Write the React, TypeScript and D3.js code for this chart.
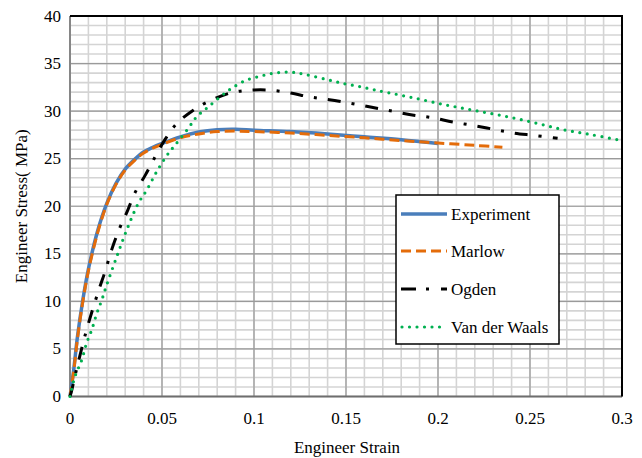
import React from "react";
import * as d3 from "d3";

const xTicks = [0, 0.05, 0.1, 0.15, 0.2, 0.25, 0.3];
const xTickLabels = ["0", "0.05", "0.1", "0.15", "0.2", "0.25", "0.3"];
const yTicks = [0, 5, 10, 15, 20, 25, 30, 35, 40];
const yTickLabels = ["0", "5", "10", "15", "20", "25", "30", "35", "40"];

const strainExp = [0, 0.002, 0.004, 0.007, 0.01, 0.015, 0.02, 0.025, 0.03, 0.035, 0.04, 0.045, 0.05, 0.06, 0.07, 0.08, 0.09, 0.1, 0.12, 0.14, 0.16, 0.18, 0.2];
const stressExp = [0, 2.8, 6.2, 10.2, 13.4, 17.4, 20.3, 22.4, 23.9, 24.9, 25.7, 26.2, 26.6, 27.3, 27.8, 28.05, 28.1, 28.0, 27.85, 27.6, 27.3, 27.0, 26.6];

const strainMar = [0, 0.002, 0.004, 0.007, 0.01, 0.015, 0.02, 0.025, 0.03, 0.035, 0.04, 0.045, 0.05, 0.06, 0.07, 0.08, 0.09, 0.1, 0.12, 0.14, 0.16, 0.18, 0.2, 0.22, 0.235];
const stressMar = [0, 2.6, 6.0, 10.0, 13.2, 17.2, 20.2, 22.3, 23.8, 24.8, 25.6, 26.1, 26.5, 27.2, 27.6, 27.85, 27.9, 27.85, 27.7, 27.45, 27.2, 26.9, 26.65, 26.4, 26.2];

const strainOg = [0, 0.001, 0.0036, 0.0063, 0.009, 0.0127, 0.016, 0.019, 0.0226, 0.027, 0.031, 0.035, 0.041, 0.046, 0.0516, 0.058, 0.067, 0.074, 0.087, 0.098, 0.109, 0.12, 0.13, 0.141, 0.153, 0.164, 0.175, 0.186, 0.197, 0.208, 0.219, 0.23, 0.241, 0.252, 0.265];
const stressOg = [0, 0.7, 2.9, 5.0, 7.0, 9.4, 11.4, 13.1, 15.4, 17.7, 19.4, 21.3, 23.3, 25.1, 27.0, 28.7, 30.1, 30.9, 31.9, 32.2, 32.2, 31.9, 31.5, 31.2, 30.8, 30.4, 30.0, 29.6, 29.3, 28.85, 28.5, 28.1, 27.7, 27.45, 27.15];

const strainVw = [0, 0.0027, 0.0063, 0.009, 0.0118, 0.0145, 0.0172, 0.0199, 0.0254, 0.0308, 0.0371, 0.0417, 0.047, 0.0525, 0.057, 0.0643, 0.0688, 0.0752, 0.0842, 0.0879, 0.0951, 0.103, 0.111, 0.1196, 0.128, 0.14, 0.1486, 0.157, 0.165, 0.174, 0.1866, 0.203, 0.219, 0.2355, 0.252, 0.268, 0.284, 0.3];
const stressVw = [0, 2.1, 3.8, 5.6, 7.0, 8.7, 10.1, 11.7, 14.7, 17.5, 20.3, 21.7, 23.6, 25.3, 26.4, 28.2, 29.4, 30.45, 31.9, 32.4, 33.2, 33.65, 34.0, 34.1, 33.85, 33.3, 32.9, 32.6, 32.25, 31.9, 31.4, 30.7, 30.1, 29.5, 28.8, 28.05, 27.5, 26.9];

const seriesNames = ["Experiment", "Marlow", "Ogden", "Van der Waals"];

const W = 642, H = 458;
const L = 70, R = 622, T = 16, B = 396.5;
const font = "Liberation Serif";

export default function App() {
  const x = d3.scaleLinear().domain([0, 0.3]).range([L, R]);
  const y = d3.scaleLinear().domain([0, 40]).range([B, T]);
  const line = d3.line<[number, number]>().x(d => x(d[0])).y(d => y(d[1])).curve(d3.curveCatmullRom.alpha(0.5));
  const zip = (a: number[], b: number[]) => a.map((v, i) => [v, b[i]] as [number, number]);

  const styles = [
    { stroke: "#4A7EBB", width: 3.5, dash: undefined as string | undefined, cap: "butt" },
    { stroke: "#E46C0A", width: 3, dash: "10 5", cap: "butt" },
    { stroke: "#000000", width: 3, dash: "13 11 3 11", cap: "butt" },
    { stroke: "#00B050", width: 3.2, dash: "0 7.5", cap: "round" },
  ];
  const data = [zip(strainExp, stressExp), zip(strainMar, stressMar), zip(strainOg, stressOg), zip(strainVw, stressVw)];

  const minorX = d3.range(0, 31).map(i => i / 100);
  const minorY = d3.range(0, 41);

  const legY = [214, 251, 289, 327];
  const ts = { fontFamily: "'Liberation Serif'", fontSize: "17px" };

  return (
    <svg width={W} height={H} style={{ position: "absolute", left: 0, top: 0, background: "#fff" }}>
      <style>{"text { font-family: 'Liberation Serif' !important; font-size: 17px; }"}</style>
      <rect x={0} y={0} width={W} height={H} fill="#fff" />
      {minorX.map((v, i) => (
        <line key={"mx" + i} x1={x(v)} x2={x(v)} y1={T} y2={B} stroke="#d4d4d4" strokeWidth={1.6} />
      ))}
      {minorY.map((v, i) => (
        <line key={"my" + i} x1={L} x2={R} y1={y(v)} y2={y(v)} stroke="#d4d4d4" strokeWidth={1.6} />
      ))}
      {xTicks.map((v, i) => (
        <line key={"gx" + i} x1={x(v)} x2={x(v)} y1={T} y2={B} stroke="#9a9a9a" strokeWidth={1.2} />
      ))}
      {yTicks.map((v, i) => (
        <line key={"gy" + i} x1={L} x2={R} y1={y(v)} y2={y(v)} stroke="#9a9a9a" strokeWidth={1.2} />
      ))}
      <line x1={L} x2={L} y1={T} y2={B} stroke="#868686" strokeWidth={2} />
      <line x1={L} x2={R} y1={B} y2={B} stroke="#6e6e6e" strokeWidth={2} />
      <line x1={L} x2={R + 1} y1={T} y2={T} stroke="#000" strokeWidth={2} />
      <line x1={R} x2={R} y1={T} y2={B} stroke="#000" strokeWidth={2} />

      {data.map((d, i) => (
        <path key={"s" + i} d={line(d) || ""} fill="none" stroke={styles[i].stroke} strokeWidth={styles[i].width}
          strokeDasharray={styles[i].dash} strokeLinecap={styles[i].cap as any} strokeLinejoin="round" />
      ))}

      {yTicks.map((v, i) => (
        <text key={"yl" + i} style={ts} fontFamily={font} x={61} y={y(v) + 5.5} textAnchor="end" fontSize={17}>{yTickLabels[i]}</text>
      ))}
      {xTicks.map((v, i) => (
        <text key={"xl" + i} style={ts} fontFamily={font} x={x(v)} y={424} textAnchor="middle" fontSize={17}>{xTickLabels[i]}</text>
      ))}
      <text style={ts} fontFamily={font} x={(L + R) / 2 + 1} y={453} textAnchor="middle" fontSize={17}>Engineer Strain</text>
      <text style={ts} fontFamily={font} transform={`translate(27, ${(T + B) / 2}) rotate(-90)`} textAnchor="middle" fontSize={17}>Engineer Stress( MPa)</text>

      <rect x={396} y={195} width={163} height={149} fill="#fff" stroke="#000" strokeWidth={1.5} />
      {seriesNames.map((n, i) => (
        <g key={"lg" + i}>
          <line x1={i === 3 ? 402 : 401} x2={447} y1={legY[i]} y2={legY[i]} stroke={styles[i].stroke} strokeWidth={styles[i].width}
            strokeDasharray={i === 2 ? "15 10 3 12" : styles[i].dash} strokeLinecap={styles[i].cap as any} />
          <text style={ts} fontFamily={font} x={451} y={legY[i] + 5.5} fontSize={17}>{n}</text>
        </g>
      ))}
    </svg>
  );
}
